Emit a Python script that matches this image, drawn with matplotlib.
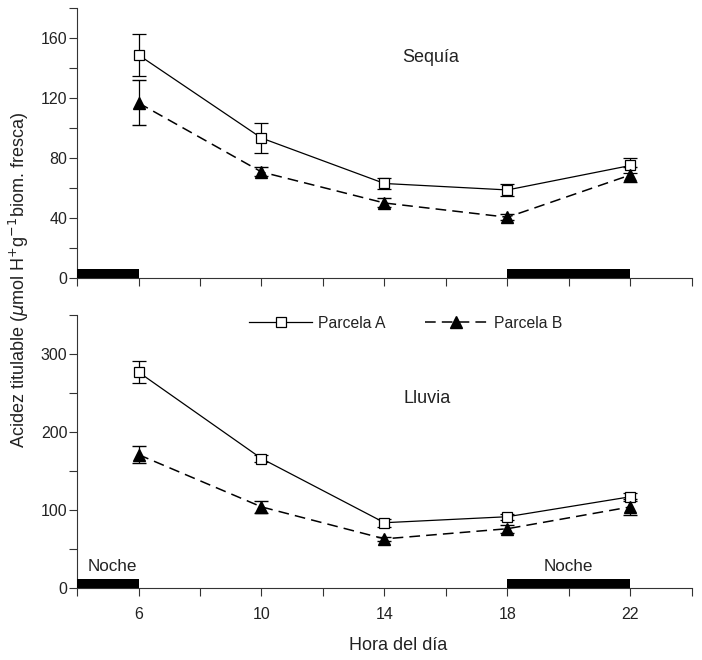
import matplotlib
matplotlib.use("Agg")
import matplotlib.pyplot as plt
from matplotlib.lines import Line2D
from matplotlib.ticker import MultipleLocator

plt.rcParams['font.family'] = ['Liberation Sans', 'DejaVu Sans']

# data
hours = [6, 10, 14, 18, 22]

seq_a = [148.7, 93.3, 63, 58.7, 75]
seq_a_err = [14, 10, 3.5, 4, 5]
seq_b = [116.7, 70.7, 50, 40.5, 68.7]
seq_b_err = [15, 3, 3, 2, 5]

llu_a = [276.8, 166, 83.7, 91.4, 117]
llu_a_err = [14, 4, 5, 4, 5]
llu_b = [171, 104, 63, 76, 104]
llu_b_err = [11, 8, 3, 5, 10]

night = [(4, 2), (18, 4)]  # start, duration (hours)

fig = plt.figure(figsize=(7.02, 6.6), dpi=100)
ax1 = fig.add_axes([0.1097, 0.5788, 0.876, 0.4091])
ax2 = fig.add_axes([0.1097, 0.1091, 0.876, 0.4136])

txt = '#222222'
dash = (0, (7, 4))


def panel(ax, a, ae, b, be, ymax, major, minor, bar_h):
    ax.errorbar(hours, a, yerr=ae, color='black', lw=0.9, marker='s', ms=7,
                mfc='white', mec='black', mew=0.9, capsize=5, elinewidth=0.9,
                zorder=3)
    ax.errorbar(hours, b, yerr=be, color='black', lw=1.1, ls=dash,
                marker='^', ms=8, mfc='black', mec='black', capsize=5,
                elinewidth=0.9, zorder=3)
    ax.broken_barh(night, (0, bar_h), facecolor='black', zorder=4)
    ax.set_xlim(4, 24)
    ax.set_ylim(0, ymax)
    ax.xaxis.set_major_locator(MultipleLocator(2))
    ax.yaxis.set_major_locator(MultipleLocator(major))
    ax.yaxis.set_minor_locator(MultipleLocator(minor))
    ax.tick_params(axis='both', which='both', direction='out', length=6,
                   width=0.8, colors='#333333', labelcolor=txt, labelsize=11.5)
    ax.tick_params(axis='y', which='major', pad=1)
    for s in ['top', 'right']:
        ax.spines[s].set_visible(False)
    for s in ['left', 'bottom']:
        ax.spines[s].set_color('#333333')
        ax.spines[s].set_linewidth(0.8)


panel(ax1, seq_a, seq_a_err, seq_b, seq_b_err, 180, 40, 20, 6)
panel(ax2, llu_a, llu_a_err, llu_b, llu_b_err, 350, 100, 50, 12)

ax1.set_xticklabels([])
ax2.set_xticks(range(4, 25, 2))
ax2.set_xticklabels(['' if h not in hours else str(h) for h in range(4, 25, 2)])
ax2.tick_params(axis='x', pad=8)

ax1.text(15.5, 147, 'Sequía', fontsize=13, color=txt, ha='center', va='center')
ax2.text(15.4, 243, 'Lluvia', fontsize=13, color=txt, ha='center', va='center')
ax2.text(5.14, 27, 'Noche', fontsize=12.3, color=txt, ha='center', va='center')
ax2.text(19.97, 27, 'Noche', fontsize=12.3, color=txt, ha='center', va='center')

handles = [
    Line2D([], [], color='black', lw=0.9, marker='s', ms=7, mfc='white',
           mec='black', mew=0.9),
    Line2D([], [], color='black', lw=1.1, ls=dash, marker='^', ms=8,
           mfc='black', mec='black'),
]
fig.legend(handles, ['Parcela A', 'Parcela B'], loc='center left',
           bbox_to_anchor=(0.335, 0.5106), ncol=2, frameon=False,
           fontsize=11.3, handlelength=4.0, handletextpad=0.4,
           columnspacing=2.5, labelcolor=txt)

ax2.set_xlabel('Hora del día', fontsize=13, color=txt)
ax2.xaxis.set_label_coords(0.5228, -0.18)
fig.text(0.027, 1 - 280 / 660,
         r'Acidez titulable ($\mu$mol H$^{+}$g$^{-1}$biom. fresca)',
         rotation=90, ha='center', va='center', fontsize=13, color=txt)

fig.savefig('out.png', dpi=100)
